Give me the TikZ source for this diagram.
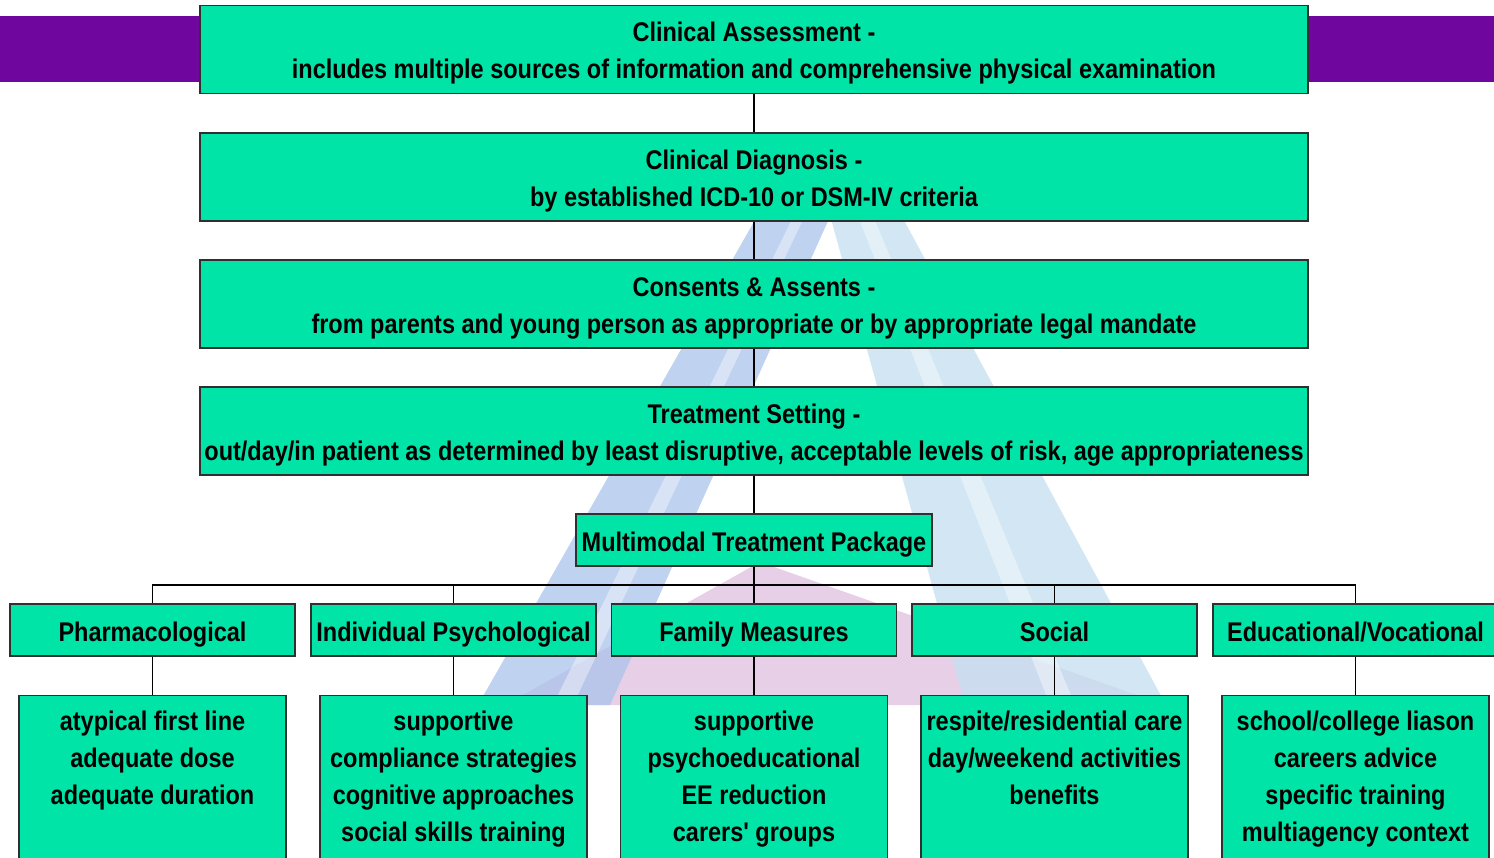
\documentclass[tikz,border=0pt]{standalone}
\usepackage{fontspec}
\setmainfont{Liberation Sans}[FakeStretch=0.87, Ligatures=TeXOff]
\definecolor{band}{RGB}{111,6,158}
\definecolor{boxfill}{RGB}{0,228,168}
\definecolor{boxline}{RGB}{48,48,48}
\definecolor{legleft}{RGB}{170,196,236}
\definecolor{legright}{RGB}{196,224,240}
\definecolor{legbase}{RGB}{222,192,224}
\begin{document}
\begin{tikzpicture}[x=1pt,y=-1pt,
  box/.style={draw=boxline, fill=boxfill, line width=1.3pt, inner sep=0pt,
    font=\bfseries\fontsize{27}{37}\selectfont, align=center},
  wide/.style={box, minimum width=1108pt, minimum height=88pt,
    text height=58pt, text depth=0pt},
  mid/.style={box, minimum width=356pt, minimum height=52pt,
    text height=22pt, text depth=0pt},
  head/.style={box, minimum width=285pt, minimum height=52pt,
    text height=22pt, text depth=0pt},
  detail/.style={box, anchor=north, minimum width=267pt, minimum height=200pt},
  dtext/.style={anchor=north, inner sep=0pt, align=center,
    font=\bfseries\fontsize{27}{37}\selectfont},
  link/.style={draw=black, line width=1.2pt}]
\useasboundingbox (0,0) rectangle (1494,857);
\clip (0,0) rectangle (1494,857);
\fill[white] (0,0) rectangle (1494,857);

% faint triangle emblem in the background
\begin{scope}[fill opacity=0.75]
  \fill[legbase] (760,562) -- (1165,705) -- (505,705) -- cycle;
  \fill[legleft] (795,150) -- (860,150) -- (610,705) -- (478,705) -- cycle;
  \fill[legright] (812,150) -- (866,150) -- (1166,705) -- (965,705) -- cycle;
\end{scope}
\begin{scope}[fill opacity=0.4]
  \fill[white] (832,150) -- (846,150) -- (1075,705) -- (1050,705) -- cycle;
  \fill[white] (826,150) -- (836,150) -- (573,705) -- (553,705) -- cycle;
\end{scope}

% purple bar behind the first box
\fill[band] (0,16) rectangle (1494,82);

% main sequence
\node[wide] (assess) at (754,49.5) {Clinical Assessment -\\includes multiple sources of information and comprehensive physical examination};
\node[wide] (diag) at (754,177) {Clinical Diagnosis -\\by established ICD-10 or DSM-IV criteria};
\node[wide] (consent) at (754,304) {Consents \& Assents -\\from parents and young person as appropriate or by appropriate legal mandate};
\node[wide] (setting) at (754,431) {Treatment Setting -\\out/day/in patient as determined by least disruptive, acceptable levels of risk, age appropriateness};
\node[mid] (mtp) at (754,540) {Multimodal Treatment Package};

% treatment strands
\node[head] (pha) at (152.5,630) {Pharmacological};
\node[head] (ind) at (453.5,630) {Individual Psychological};
\node[head] (fam) at (754,630) {Family Measures};
\node[head] (soc) at (1054.5,630) {Social};
\node[head] (edu) at (1355.5,630) {Educational/Vocational};

% strand details
\node[detail] (dpha) at (152.5,695) {};
\node[detail] (dind) at (453.5,695) {};
\node[detail] (dfam) at (754,695) {};
\node[detail] (dsoc) at (1054.5,695) {};
\node[detail] (dedu) at (1355.5,695) {};
\node[dtext] (tpha) at ([yshift=-9pt]dpha.north) {\strut atypical first line\\adequate dose\\adequate duration};
\node[dtext] (tind) at ([yshift=-9pt]dind.north) {\strut supportive\\compliance strategies\\cognitive approaches\\social skills training};
\node[dtext] (tfam) at ([yshift=-9pt]dfam.north) {\strut supportive\\psychoeducational\\EE reduction\\carers' groups};
\node[dtext] (tsoc) at ([yshift=-9pt]dsoc.north) {\strut respite/residential care\\day/weekend activities\\benefits};
\node[dtext] (tedu) at ([yshift=-9pt]dedu.north) {\strut school/college liason\\careers advice\\specific training\\multiagency context};

% connectors
\coordinate (bar) at (754,585);
\draw[link] (assess) -- (diag);
\draw[link] (diag) -- (consent);
\draw[link] (consent) -- (setting);
\draw[link] (setting) -- (mtp);
\draw[link] (mtp) -- (fam);
\draw[link] (pha.north) -- (pha.north |- bar) -- (edu.north |- bar) -- (edu.north);
\draw[link] (ind.north) -- (ind.north |- bar);
\draw[link] (soc.north) -- (soc.north |- bar);
\foreach \a/\b in {pha/dpha, ind/dind, fam/dfam, soc/dsoc, edu/dedu}
  \draw[link] (\a.south) -- (\b.north);
\end{tikzpicture}
\end{document}
